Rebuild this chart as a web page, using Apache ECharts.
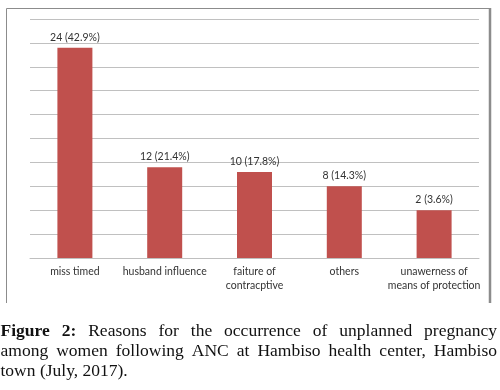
<!DOCTYPE html>
<html>
<head>
<meta charset="utf-8">
<script src="https://cdn.jsdelivr.net/npm/echarts@6/dist/echarts.min.js"></script>
<style>
  html, body { margin: 0; padding: 0; background: #fff; }
  #chart { width: 500px; height: 390px; }
</style>
</head>
<body>
<div id="chart"></div>
<script>
// categories along the x axis
var categories = ['miss timed', 'husband influence', 'faiture of\ncontracptive', 'others', 'unawerness of\nmeans of protection'];
// bar heights as drawn, in gridline units (the picture's bars do not follow their labels exactly)
var barValues = [8.8, 3.8, 3.6, 3.0, 2.0];
// text printed above each bar
var barLabels = ['24 (42.9%)', '12 (21.4%)', '10 (17.8%)', '8 (14.3%)', '2 (3.6%)'];

var captionLines = [
    [{t: 'Figure', b: true}, {t: '2:', b: true}, 'Reasons', 'for', 'the', 'occurrence', 'of', 'unplanned', 'pregnancy'],
    ['among', 'women', 'following', 'ANC', 'at', 'Hambiso', 'health', 'center,', 'Hambiso'],
    ['town', '(July,', '2017).']
];

var chart = echarts.init(document.getElementById('chart'));

// justified caption laid out word by word
var ctx = document.createElement('canvas').getContext('2d');
var serif = "17.5px 'Liberation Serif'";
var serifBold = "bold 17.5px 'Liberation Serif'";
var capLeft = 0.5, capRight = 497, capY = [331, 351, 371.5];
var captionEls = [];
for (var i = 0; i < captionLines.length; i++) {
    var words = captionLines[i].map(function (w) {
        return typeof w === 'string' ? {t: w, b: false} : w;
    });
    var widths = words.map(function (w) {
        ctx.font = w.b ? serifBold : serif;
        return ctx.measureText(w.t).width;
    });
    var total = widths.reduce(function (a, b) { return a + b; }, 0);
    var gap;
    if (i < captionLines.length - 1) {
        gap = (capRight - capLeft - total) / (words.length - 1);
    } else {
        ctx.font = serif;
        gap = ctx.measureText(' ').width;
    }
    var x = capLeft;
    for (var j = 0; j < words.length; j++) {
        captionEls.push({
            type: 'text',
            x: x,
            y: capY[i],
            style: {
                text: words[j].t,
                font: words[j].b ? serifBold : serif,
                fill: '#111',
                verticalAlign: 'middle'
            }
        });
        x += widths[j] + gap;
    }
}

var option = {
    animation: false,
    grid: {
        left: 30,
        right: 21,
        top: 19,
        bottom: 132
    },
    xAxis: {
        type: 'category',
        data: categories,
        axisLine: {lineStyle: {color: '#bfbfbf', width: 1}},
        axisTick: {length: 3, lineStyle: {color: '#bfbfbf'}},
        axisLabel: {
            margin: 7,
            color: '#333',
            fontFamily: 'Lato',
            fontSize: 10.5,
            lineHeight: 14,
            interval: 0
        }
    },
    yAxis: {
        type: 'value',
        min: 0,
        max: 10,
        interval: 1,
        axisLine: {show: false},
        axisTick: {show: false},
        axisLabel: {show: false},
        splitLine: {lineStyle: {color: '#c0c0c0', width: 1}}
    },
    series: [{
        type: 'bar',
        data: barValues,
        barWidth: 35,
        itemStyle: {color: '#c0504d'},
        label: {
            show: true,
            position: 'top',
            distance: 5,
            color: '#333',
            fontFamily: 'Lato',
            fontSize: 10.5,
            formatter: function (p) { return barLabels[p.dataIndex]; }
        }
    }],
    graphic: [
        {
            type: 'polyline',
            shape: {points: [[6.5, 303], [6.5, 8.5], [489.5, 8.5]]},
            style: {stroke: '#8c8c8c', lineWidth: 1, fill: null}
        },
        {
            type: 'line',
            shape: {x1: 490, y1: 8, x2: 490, y2: 303},
            style: {stroke: '#8c8c8c', lineWidth: 2.5}
        }
    ].concat(captionEls)
};

chart.setOption(option);
</script>
</body>
</html>
